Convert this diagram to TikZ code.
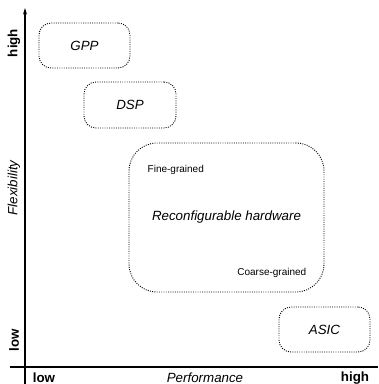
\documentclass[tikz,border=0pt]{standalone}
\usepackage{fontspec}
\setmainfont{Liberation Sans}
\usetikzlibrary{arrows.meta,positioning}

\begin{document}
\begin{tikzpicture}[
  x=0.75pt, y=0.75pt,
  area/.style={draw, densely dotted, line width=0.7pt, rounded corners=9pt, align=center,
               minimum width=68.25pt, minimum height=33.75pt, font=\itshape},
  axlbl/.style={font=\bfseries, inner sep=0pt},
  >={Stealth[length=5pt,width=3pt]}
]
  \useasboundingbox (0,0) rectangle (378,384);

  % axes
  \coordinate (yb) at (25,0);
  \coordinate (yt) at (25,376);
  \coordinate (xl) at (10,17);
  \coordinate (xr) at (378,17);
  \draw[->, line width=0.8pt] (yb) -- (yt);
  \draw[line width=0.8pt] (xl) -- (xr);

  \node[axlbl, rotate=90] (yhi) at (14,341) {high};
  \node[axlbl, rotate=90] (ylo) at (14,44)  {low};
  \node[font=\itshape, inner sep=0pt, rotate=90] (flex) at (14,196) {Flexibility};
  \node[axlbl] (xlo) at (44,6)  {low};
  \node[font=\itshape, inner sep=0pt] (perf) at (205,6) {Performance};
  \node[axlbl] (xhi) at (355,6) {high};

  % platforms
  \node[area] (gpp)  at (84.5,338.5) {GPP};
  \node[area, minimum width=69pt, minimum height=34.5pt] (dsp) at (130,279) {DSP};
  \node[area, rounded corners=21pt, minimum width=146.25pt, minimum height=111.75pt]
       (rh) at (226.5,166.5) {Reconfigurable hardware};
  \node[area] (asic) at (324.5,54.5) {ASIC};

  \node[font=\fontsize{7.5}{9}\selectfont, anchor=west] (fine) at (143,214) {Fine-grained};
  \node[font=\fontsize{7.5}{9}\selectfont, anchor=east] (coarse) at (311,111) {Coarse-grained};
\end{tikzpicture}
\end{document}
